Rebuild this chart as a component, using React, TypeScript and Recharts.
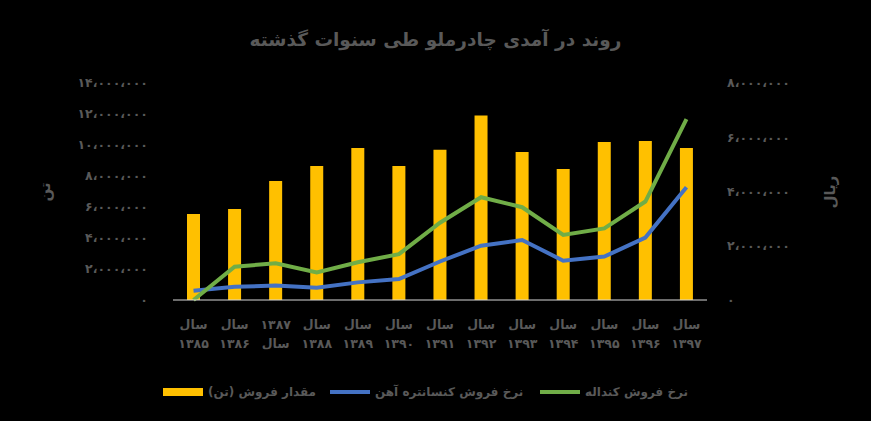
import React from 'react';
import { ComposedChart, Bar, Line, XAxis, YAxis, Legend } from 'recharts';

const years = ['۱۳۸۵', '۱۳۸۶', '۱۳۸۷', '۱۳۸۸', '۱۳۸۹', '۱۳۹۰', '۱۳۹۱', '۱۳۹۲', '۱۳۹۳', '۱۳۹۴', '۱۳۹۵', '۱۳۹۶', '۱۳۹۷'];
const salesTon = [5550000, 5870000, 7680000, 8650000, 9800000, 8650000, 9700000, 11900000, 9550000, 8450000, 10200000, 10260000, 9800000];
const concentratePrice = [340000, 490000, 530000, 450000, 650000, 770000, 1420000, 2000000, 2210000, 1450000, 1600000, 2300000, 4160000];
const lumpPrice = [0, 1230000, 1350000, 1020000, 1390000, 1690000, 2850000, 3790000, 3420000, 2400000, 2640000, 3630000, 6670000];
const leftTicks = [0, 2000000, 4000000, 6000000, 8000000, 10000000, 12000000, 14000000];
const rightTicks = [0, 2000000, 4000000, 6000000, 8000000];

const seriesNames = ['مقدار فروش (تن)', 'نرخ فروش کنسانتره آهن', 'نرخ فروش کنداله'];
const title = 'روند در آمدی چادرملو طی سنوات گذشته';

const data = years.map((y, i) => ({
  year: y,
  sales: salesTon[i],
  concentrate: concentratePrice[i],
  lump: lumpPrice[i],
}));

const FONT = '"DejaVu Sans", sans-serif';
const GREY = '#595959';

const faDigits = '۰۱۲۳۴۵۶۷۸۹';
const toFa = (n: number) => {
  if (n === 0) return '۰';
  const s = n.toString().replace(/\B(?=(\d{3})+(?!\d))/g, '،');
  return s.replace(/\d/g, (d) => faDigits[Number(d)]);
};

// excel wrapped the 1387 label the other way round
const YearTick: React.FC<any> = ({ x, y, payload, index }) => {
  const flipped = index === 2;
  const top = flipped ? payload.value : 'سال';
  const bottom = flipped ? 'سال' : payload.value;
  return (
    <g transform={`translate(${x},${y})`}>
      <text x={0} y={0} dy={21} textAnchor="middle" fill={GREY} fontSize={12.5} fontWeight="bold" fontFamily={FONT}>{top}</text>
      <text x={0} y={0} dy={40} textAnchor="middle" fill={GREY} fontSize={12.5} fontWeight="bold" fontFamily={FONT}>{bottom}</text>
    </g>
  );
};

const LegendBox: React.FC<any> = () => {
  const colors = ['#FFC000', '#4472C4', '#70AD47'];
  const swatchX = [163, 330, 540];
  const swatchH = [8, 4, 4];
  return (
    <div style={{ position: 'relative', width: 871, height: 24 }}>
      {seriesNames.map((name, i) => (
        <div key={name} style={{ position: 'absolute', left: swatchX[i], top: 0, height: 24, display: 'flex', alignItems: 'center' }}>
          <div style={{ width: 40, height: swatchH[i], background: colors[i] }} />
          <span style={{ direction: 'rtl', marginLeft: 5, color: GREY, fontFamily: FONT, fontWeight: 'bold', fontSize: 12, letterSpacing: -0.3, whiteSpace: 'nowrap' }}>{name}</span>
        </div>
      ))}
    </div>
  );
};

const App: React.FC = () => {
  return (
    <div style={{ position: 'fixed', left: 0, top: 0, width: 871, height: 421, background: '#000' }}>
      <div style={{ position: 'absolute', left: 0, top: 29, width: 871, textAlign: 'center', direction: 'rtl', color: GREY, fontFamily: FONT, fontWeight: 'bold', fontSize: 18.5 }}>
        {title}
      </div>
      <div style={{ position: 'absolute', left: 45, top: 192, transform: 'translate(-50%,-50%) rotate(-90deg)', color: GREY, fontFamily: FONT, fontWeight: 'bold', fontSize: 15 }}>تن</div>
      <div style={{ position: 'absolute', left: 830, top: 192, transform: 'translate(-50%,-50%) rotate(-90deg)', color: GREY, fontFamily: FONT, fontWeight: 'bold', fontSize: 15 }}>ریال</div>
      <ComposedChart width={871} height={421} data={data} margin={{ top: 83, right: 0, bottom: 71, left: 0 }}>
        <XAxis dataKey="year" height={50} tick={<YearTick />} tickLine={false} axisLine={{ stroke: '#D9D9D9' }} interval={0} />
        <YAxis yAxisId="left" width={173} domain={[0, 14000000]} ticks={leftTicks} tickFormatter={toFa} tickLine={false} axisLine={false} tickMargin={19}
          tick={{ fill: GREY, fontSize: 12.5, fontWeight: 'bold', fontFamily: FONT }} />
        <YAxis yAxisId="right" orientation="right" width={164} domain={[0, 8000000]} ticks={rightTicks} tickFormatter={toFa} tickLine={false} axisLine={false} tickMargin={14}
          tick={{ fill: GREY, fontSize: 12.5, fontWeight: 'bold', fontFamily: FONT }} />
        <Bar yAxisId="left" dataKey="sales" name={seriesNames[0]} fill="#FFC000" barSize={13} isAnimationActive={false} />
        <Line yAxisId="right" type="linear" dataKey="concentrate" name={seriesNames[1]} stroke="#4472C4" strokeWidth={4} dot={false} isAnimationActive={false} />
        <Line yAxisId="right" type="linear" dataKey="lump" name={seriesNames[2]} stroke="#70AD47" strokeWidth={4} dot={false} isAnimationActive={false} />
        <Legend layout="horizontal" verticalAlign="middle" align="center" content={<LegendBox />}
          wrapperStyle={{ top: 380, left: 0, width: 871, height: 24 }} />
      </ComposedChart>
    </div>
  );
};

export default App;
